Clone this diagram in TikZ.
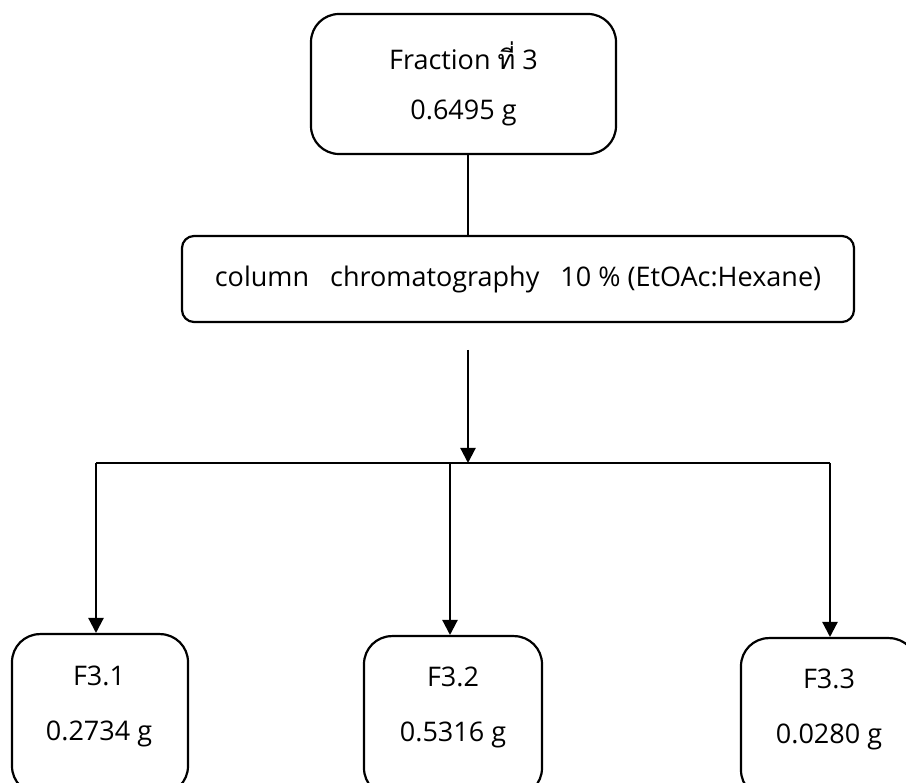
\documentclass[tikz,border=0pt]{standalone}
\usepackage{fontspec}
\setmainfont{Open Sans}
\newfontfamily\thaifont[Script=Thai]{Loma}
\usetikzlibrary{arrows.meta}
\begin{document}
\begin{tikzpicture}[x=1pt,y=-1pt, line width=2.2pt,
  box/.style={draw, rounded corners=28pt, inner sep=0pt},
  txt/.style={font=\fontsize{27}{50}\selectfont, align=center, inner sep=0pt},
  btxt/.style={font=\fontsize{27}{55}\selectfont, align=center, inner sep=0pt},
  arr/.style={-{Triangle[length=15pt,width=15pt]}}]
\useasboundingbox (0,0) rectangle (906,783);
\clip (0,0) rectangle (906,783);
\node[box, minimum width=305pt, minimum height=140pt, txt] (top) at (463.5,84) {Fraction {\thaifont ที่} 3\\0.6495 g};
\node[box, rounded corners=12pt, minimum width=672pt, minimum height=86pt, txt] (mid) at (518,279) {column\ \ \ chromatography\ \ \ 10 \% (EtOAc:Hexane)};
\coordinate (astart) at (468,350);
\coordinate (split) at (468,463);
\coordinate (hl) at (96,463);
\coordinate (hm) at (450,463);
\coordinate (hr) at (830,463);
\node[box, anchor=north, minimum width=176pt, minimum height=160pt] (b1) at (100,633) {};
\node[box, anchor=north, minimum width=178pt, minimum height=160pt] (b2) at (453,635) {};
\node[box, anchor=north, minimum width=176pt, minimum height=160pt] (b3) at (829,637) {};
\node[btxt] (t1) at (99,706) {F3.1\\0.2734 g};
\node[btxt] (t2) at (453,707) {F3.2\\0.5316 g};
\node[btxt] (t3) at (829,709) {F3.3\\0.0280 g};
\draw (top.south -| astart) -- (mid.north -| astart);
\draw[arr] (astart) -- (split);
\draw (hl) -- (hr);
\draw[arr] (hl) -- (b1.north -| hl);
\draw[arr] (hm) -- (b2.north -| hm);
\draw[arr] (hr) -- (b3.north -| hr);
\end{tikzpicture}
\end{document}
